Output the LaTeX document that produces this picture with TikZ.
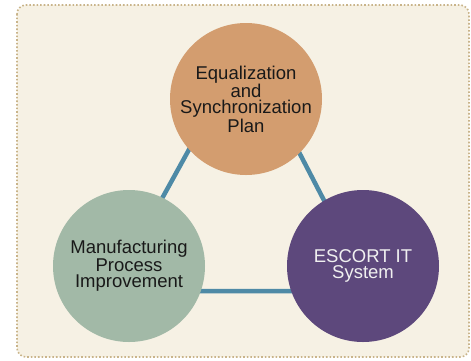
\documentclass[tikz,border=0pt]{standalone}
\usepackage{fontspec}
\setmainfont{Liberation Sans}
\definecolor{bgfill}{HTML}{F6F1E4}
\definecolor{bgborder}{HTML}{C9B48A}
\definecolor{topc}{HTML}{D39D6F}
\definecolor{leftc}{HTML}{A2B9A7}
\definecolor{rightc}{HTML}{5D487C}
\definecolor{linkc}{HTML}{4E8AA6}
\tikzset{
  x=1pt, y=-1pt,
  bubble/.style={circle, minimum size=152pt, inner sep=0pt, align=center,
    font=\fontsize{18.5}{16.5}\selectfont},
  link/.style={draw=linkc, line width=4.5pt},
  frame/.style={draw=bgborder, fill=bgfill, line width=1.6pt, dotted, rounded corners=9pt}
}
\begin{document}
\begin{tikzpicture}
\useasboundingbox (0,0) rectangle (471,360);
\draw[frame] (17,5) rectangle (469,357);
\coordinate (ta) at (245,48);
\coordinate (tl) at (111,291);
\coordinate (tr) at (371,291);
\draw[link] (ta) -- (tl) -- (tr) -- cycle;
\node[bubble, fill=topc, text=black!90] (plan) at (246,99) {Equalization\\and\\Synchronization\\Plan};
\node[bubble, fill=leftc, text=black!90] (mpi) at (129,266) {Manufacturing\\Process\\Improvement};
\node[bubble, fill=rightc, text=white!94!black] (escort) at (363,266) {ESCORT IT\\System};
\end{tikzpicture}
\end{document}
